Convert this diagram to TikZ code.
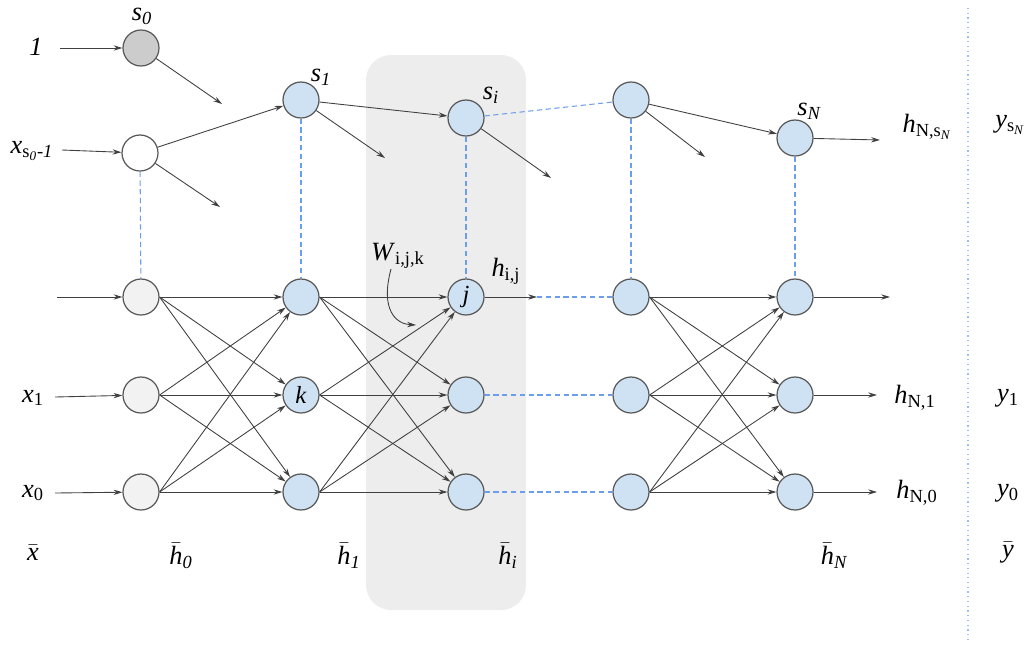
\documentclass[tikz,border=0pt]{standalone}
\usepackage{amsmath}
\usepackage{fontspec}
\setmainfont{Liberation Serif}
\usetikzlibrary{arrows.meta}
\definecolor{nodeblue}{HTML}{CFE2F3}
\definecolor{linkblue}{HTML}{6D9EEB}
\definecolor{sepblue}{HTML}{9FBFF0}
\colorlet{boxgray}{black!7}
\colorlet{ingray}{black!5}
\colorlet{sgray}{black!20}
\newcommand{\isub}[2]{\textit{#1}$_{\textit{#2}}$}
\newcommand{\rsub}[2]{\textit{#1}$_{\textrm{#2}}$}

\begin{document}
\begin{tikzpicture}[
    x=0.02cm, y=-0.02cm,
    >={Stealth[length=5pt,width=3pt]},
    neuron/.style={circle, draw=black!65, line width=0.7pt, minimum size=0.72cm, inner sep=0pt, fill=nodeblue, font=\fontsize{14}{16}\selectfont\itshape},
    inneuron/.style={neuron, fill=ingray},
    conn/.style={->, draw=black!75, line width=0.5pt},
    link/.style={draw=linkblue, line width=0.6pt, dash pattern=on 3pt off 2pt},
    lab/.style={font=\fontsize{15}{18}\selectfont, inner sep=1pt}
    ]

\useasboundingbox (0,0) rectangle (1030,646);

% layer i
\fill[boxgray, rounded corners=0.5cm] (366,55) rectangle (526,610);
\draw[sepblue, dotted, line width=0.7pt] (968,8) -- (968,642);

% neurons
\node[neuron, fill=sgray] (s0) at (141,48) {};
\node[neuron, fill=white] (xs) at (140,153) {};
\node[neuron] (s1) at (301,100) {};
\node[neuron] (si) at (466,118) {};
\node[neuron] (sm) at (631,100) {};
\node[neuron] (sN) at (795,138) {};

\foreach \r/\y in {2/297, 1/395, 0/492} {
    \node[inneuron] (h0-\r) at (141,\y) {};
    \node[neuron] (h1-\r) at (301,\y) {};
    \node[neuron] (hi-\r) at (466,\y) {};
    \node[neuron] (hm-\r) at (631,\y) {};
    \node[neuron] (hN-\r) at (795,\y) {};
}
\node at (h1-1) {\fontsize{14}{16}\selectfont\textit{k}};
\node at (hi-2) {\fontsize{14}{16}\selectfont\textit{j}};

% free ends
\coordinate (in1) at (60,48);
\coordinate (inx) at (62,150);
\coordinate (in2) at (57,297);
\coordinate (in1x) at (55,397);
\coordinate (in0x) at (55,493);
\coordinate (o0) at (222,104);
\coordinate (ox) at (220,207);
\coordinate (o1) at (385,158);
\coordinate (oi) at (551,178);
\coordinate (om) at (705,157);
\coordinate (oN) at (880,140);
\coordinate (ij) at (537,297);
\coordinate (out2) at (890,297);
\coordinate (out1) at (877,395);
\coordinate (out0) at (877,492);
\coordinate (wa) at (391,269);
\coordinate (wb) at (416,325);

% state chain
\draw[conn] (in1) -- (s0);
\draw[conn] (inx) -- (xs);
\draw[conn] (s0) -- (o0);
\draw[conn] (xs) -- (s1);
\draw[conn] (xs) -- (ox);
\draw[conn] (s1) -- (si);
\draw[conn] (s1) -- (o1);
\draw[conn] (si) -- (oi);
\draw[link] (si) -- (sm);
\draw[conn] (sm) -- (sN);
\draw[conn] (sm) -- (om);
\draw[conn] (sN) -- (oN);

\draw[link] (xs) -- (h0-2);
\draw[link] (s1) -- (h1-2);
\draw[link] (si) -- (hi-2);
\draw[link] (sm) -- (hm-2);
\draw[link] (sN) -- (hN-2);

% dense layers
\draw[conn] (in2) -- (h0-2);
\draw[conn] (in1x) -- (h0-1);
\draw[conn] (in0x) -- (h0-0);
\foreach \a in {0,1,2}
    \foreach \b in {0,1,2} {
        \draw[conn] (h0-\a.east) -- (h1-\b);
        \draw[conn] (h1-\a.east) -- (hi-\b);
        \draw[conn] (hm-\a.east) -- (hN-\b);
    }
\draw[conn] (hi-2) -- (ij);
\draw[link] (ij) -- (hm-2);
\draw[link] (hi-1) -- (hm-1);
\draw[link] (hi-0) -- (hm-0);
\draw[conn] (hN-2) -- (out2);
\draw[conn] (hN-1) -- (out1);
\draw[conn] (hN-0) -- (out0);

\draw[conn] (wa) .. controls (380,310) and (396,324) .. (wb);

% labels
\node[lab] (l1) at (36,47) {\textit{1}};
\node[lab] (lxs) at (32,151) {\textit{x}$_{\textrm{s}_{\textit{0}}\textit{-1}}$};
\node[lab] (lx1) at (33,398) {\rsub{x}{1}};
\node[lab] (lx0) at (33,493) {\rsub{x}{0}};
\node[lab] (ls0) at (142,16) {\isub{s}{0}};
\node[lab] (ls1) at (321,77) {\isub{s}{1}};
\node[lab] (lsi) at (491,95) {\isub{s}{i}};
\node[lab] (lsN) at (809,111) {\isub{s}{N}};
\node[lab] (lw) at (398,256) {\rsub{W}{i,j,k}};
\node[lab] (lhij) at (506,271) {\rsub{h}{i,j}};
\node[lab] (lhNs) at (927,127) {\textit{h}$_{\textrm{N,s}_{\textit{N}}}$};
\node[lab] (lhN1) at (915,398) {\rsub{h}{N,1}};
\node[lab] (lhN0) at (917,493) {\rsub{h}{N,0}};
\node[lab] (lys) at (1010,125) {\textit{y}$_{\textrm{s}_{\textit{N}}}$};
\node[lab] (ly1) at (1008,398) {\rsub{y}{1}};
\node[lab] (ly0) at (1008,493) {\rsub{y}{0}};
\node[lab] (bx) at (33,553) {$\bar{\textit{x}}$};
\node[lab] (bh0) at (181,556) {$\bar{\textit{h}}_{\textit{0}}$};
\node[lab] (bh1) at (349,556) {$\bar{\textit{h}}_{\textit{1}}$};
\node[lab] (bhi) at (508,556) {$\bar{\textit{h}}_{\textit{i}}$};
\node[lab] (bhN) at (834,556) {$\bar{\textit{h}}_{\textit{N}}$};
\node[lab] (by) at (1008,553) {$\bar{\textit{y}}$};

\end{tikzpicture}
\end{document}
